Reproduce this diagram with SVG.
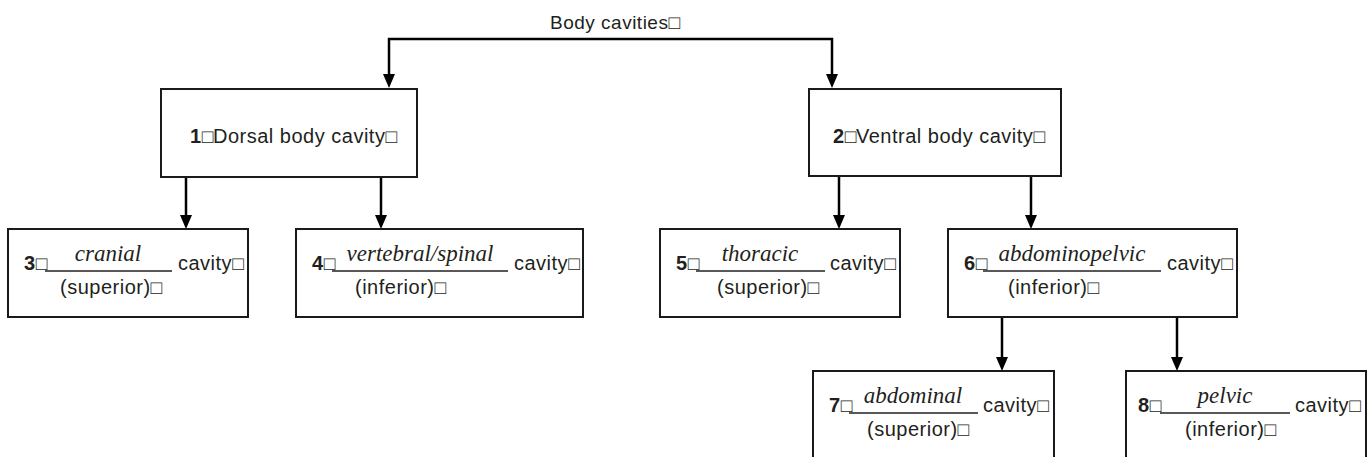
<svg xmlns="http://www.w3.org/2000/svg" width="1370" height="457" viewBox="0 0 1370 457">
<style>
.box{fill:#fff;stroke:#1a1a1a;stroke-width:2}
.tx{font-family:"Liberation Sans",Arial,sans-serif;font-size:20px;fill:#231f20;letter-spacing:0.5px}
.num{font-weight:bold}
.t{font-size:19px;letter-spacing:0}
.it{font-family:"Liberation Serif","Times New Roman",serif;font-style:italic;font-size:23px;fill:#231f20;text-anchor:middle}
.ul{stroke:#231f20;stroke-width:1.5}
.con{fill:none;stroke:#000;stroke-width:2.5;marker-end:url(#ah)}
</style>
<defs>
<marker id="ah" markerUnits="userSpaceOnUse" markerWidth="14" markerHeight="12" viewBox="0 0 14 12" refX="10" refY="6" orient="auto">
<path d="M0,0 L14,6 L0,12 z" fill="#000"/>
</marker>
</defs>
<rect width="1370" height="457" fill="#fff"/>

<g id="title">
<text x="550" y="29" class="tx" style="font-size:19px">Body cavities<tspan class="t">□</tspan></text>
</g>

<g id="connectors">
<path class="con" d="M610,39 H389 V84"/>
<path class="con" d="M610,39 H832 V84"/>
<path class="con" d="M186,177 V225"/>
<path class="con" d="M381,177 V225"/>
<path class="con" d="M839,176 V225"/>
<path class="con" d="M1031,176 V225"/>
<path class="con" d="M1002,317 V367"/>
<path class="con" d="M1177,317 V367"/>
</g>

<g id="node1">
<rect class="box" x="161" y="89" width="256" height="88"/>
<text x="190" y="143" class="tx"><tspan class="num">1</tspan><tspan class="t">□</tspan><tspan x="213">Dorsal body cavity</tspan><tspan class="t">□</tspan></text>
</g>

<g id="node2">
<rect class="box" x="809" y="89" width="252" height="87"/>
<text x="833" y="143" class="tx"><tspan class="num">2</tspan><tspan class="t">□</tspan><tspan x="856">Ventral body cavity</tspan><tspan class="t">□</tspan></text>
</g>

<g id="node3">
<rect class="box" x="8" y="229" width="240" height="88"/>
<text x="24" y="270" class="tx"><tspan class="num">3</tspan><tspan class="t">□</tspan></text>
<line class="ul" x1="45" y1="271" x2="172" y2="271"/>
<text x="108" y="261" class="it">cranial</text>
<text x="178" y="270" class="tx">cavity<tspan class="t">□</tspan></text>
<text x="60" y="294" class="tx">(superior)<tspan class="t">□</tspan></text>
</g>

<g id="node4">
<rect class="box" x="296" y="229" width="287" height="88"/>
<text x="312" y="270" class="tx"><tspan class="num">4</tspan><tspan class="t">□</tspan></text>
<line class="ul" x1="332" y1="271" x2="508" y2="271"/>
<text x="420" y="261" class="it">vertebral/spinal</text>
<text x="514" y="270" class="tx">cavity<tspan class="t">□</tspan></text>
<text x="355" y="294" class="tx">(inferior)<tspan class="t">□</tspan></text>
</g>

<g id="node5">
<rect class="box" x="660" y="229" width="240" height="88"/>
<text x="676" y="270" class="tx"><tspan class="num">5</tspan><tspan class="t">□</tspan></text>
<line class="ul" x1="696" y1="271" x2="825" y2="271"/>
<text x="760" y="261" class="it">thoracic</text>
<text x="830" y="270" class="tx">cavity<tspan class="t">□</tspan></text>
<text x="717" y="294" class="tx">(superior)<tspan class="t">□</tspan></text>
</g>

<g id="node6">
<rect class="box" x="948" y="229" width="289" height="88"/>
<text x="964" y="270" class="tx"><tspan class="num">6</tspan><tspan class="t">□</tspan></text>
<line class="ul" x1="983" y1="271" x2="1161" y2="271"/>
<text x="1072" y="261" class="it">abdominopelvic</text>
<text x="1167" y="270" class="tx">cavity<tspan class="t">□</tspan></text>
<text x="1008" y="294" class="tx">(inferior)<tspan class="t">□</tspan></text>
</g>

<g id="node7">
<rect class="box" x="813" y="371" width="241" height="100"/>
<text x="829" y="412" class="tx"><tspan class="num">7</tspan><tspan class="t">□</tspan></text>
<line class="ul" x1="849" y1="413" x2="978" y2="413"/>
<text x="913" y="403" class="it">abdominal</text>
<text x="983" y="412" class="tx">cavity<tspan class="t">□</tspan></text>
<text x="867" y="436" class="tx">(superior)<tspan class="t">□</tspan></text>
</g>

<g id="node8">
<rect class="box" x="1126" y="371" width="240" height="100"/>
<text x="1138" y="412" class="tx"><tspan class="num">8</tspan><tspan class="t">□</tspan></text>
<line class="ul" x1="1160" y1="413" x2="1290" y2="413"/>
<text x="1225" y="403" class="it">pelvic</text>
<text x="1295" y="412" class="tx">cavity<tspan class="t">□</tspan></text>
<text x="1185" y="436" class="tx">(inferior)<tspan class="t">□</tspan></text>
</g>
</svg>
